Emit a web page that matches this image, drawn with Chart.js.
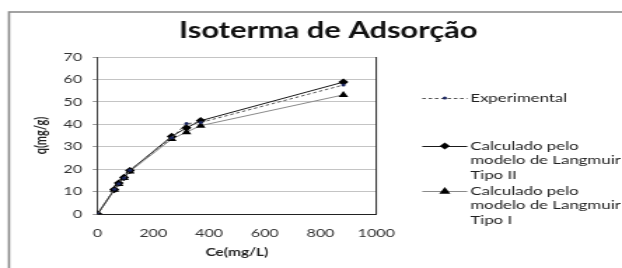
<!DOCTYPE html>
<html>
<head>
<meta charset="utf-8">
<script src="https://cdn.jsdelivr.net/npm/chart.js@4"></script>
<style>
html,body{margin:0;padding:0;background:#fff;}
#wrap{width:622px;height:268px;position:relative;overflow:hidden;}
#c{display:block;width:622px;height:268px;}
</style>
</head>
<body>
<div id="wrap"><canvas id="c" width="444" height="268" style="width:622px;height:268px;"></canvas></div>
<script>
// ---- data ----
const chartTitle = 'Isoterma de Adsorção';
const xTitle = 'Ce(mg/L)';
const yTitle = 'q(mg/g)';
const ce      = [0, 60, 76, 95, 116, 266, 319, 370, 882];
const qExp    = [0, 11.0, 13.5, 16.0, 19.5, 34.0, 40.3, 40.8, 57.5];
const qTipoII = [0, 10.9, 13.8, 16.3, 19.4, 34.6, 38.4, 41.6, 58.8];
const qTipoI  = [0, 10.8, 13.4, 16.0, 19.0, 33.4, 36.5, 39.4, 53.1];
const seriesLabels = [
  ['Experimental'],
  ['Calculado pelo', 'modelo de Langmuir', 'Tipo II'],
  ['Calculado pelo', 'modelo de Langmuir', 'Tipo I']
];
const xTicks = [0, 200, 400, 600, 800, 1000];
const yTicks = [0, 10, 20, 30, 40, 50, 60, 70];

// The reference picture is horizontally stretched; the canvas is drawn
// narrower and displayed at full width to reproduce that look.
const SX = 1.4;
const X = (px) => px / SX;   // screen px -> canvas px (horizontal)

const pts = (ys) => ce.map((x, i) => ({x: x, y: ys[i]}));
const FONT = 'Lato, "Open Sans", sans-serif';

const framePlugin = {
  id: 'frame',
  beforeDraw(chart) {
    const ctx = chart.ctx;
    ctx.save();
    ctx.fillStyle = '#fff';
    ctx.fillRect(0, 0, chart.width, chart.height);
    ctx.strokeStyle = '#8c8c8c';
    ctx.lineWidth = 1.6;
    ctx.strokeRect(X(9), 12, 700, 400);
    ctx.restore();
  },
  beforeDatasetsDraw(chart) {
    const a = chart.chartArea, ctx = chart.ctx;
    ctx.save();
    ctx.strokeStyle = '#222';
    ctx.lineWidth = 1;
    ctx.beginPath();
    ctx.moveTo(a.right, a.top);
    ctx.lineTo(a.right, a.bottom);
    ctx.stroke();
    ctx.restore();
  },
  afterDraw(chart) {
    const ctx = chart.ctx;
    ctx.save();
    // title
    ctx.fillStyle = '#111';
    ctx.font = 'bold 22px ' + FONT;
    ctx.textAlign = 'center';
    ctx.textBaseline = 'middle';
    ctx.fillText(chartTitle, X(328), 31);
    // legend
    const lx0 = X(422), lx1 = X(467), tx = X(470);
    const rows = [98, 146, 191];
    const lh = 14.5;
    ctx.font = '12px ' + FONT;
    ctx.textAlign = 'left';
    chart.data.datasets.forEach((ds, i) => {
      const y = rows[i];
      ctx.save();
      ctx.strokeStyle = ds.borderColor;
      ctx.lineWidth = ds.borderWidth;
      ctx.setLineDash(ds.borderDash || []);
      ctx.beginPath();
      ctx.moveTo(lx0, y + 0.5);
      ctx.lineTo(lx1, y + 0.5);
      ctx.stroke();
      ctx.restore();
      const mx = (lx0 + lx1) / 2;
      ctx.fillStyle = ds.pointBackgroundColor;
      ctx.beginPath();
      const r = ds.pointRadius;
      if (ds.pointStyle === 'rectRot') {
        ctx.moveTo(mx, y - r); ctx.lineTo(mx + r, y); ctx.lineTo(mx, y + r); ctx.lineTo(mx - r, y);
      } else if (ds.pointStyle === 'triangle') {
        ctx.moveTo(mx, y - r); ctx.lineTo(mx + r, y + r * 0.7); ctx.lineTo(mx - r, y + r * 0.7);
      } else {
        ctx.arc(mx, y, r, 0, Math.PI * 2);
      }
      ctx.closePath();
      ctx.fill();
      ctx.fillStyle = '#222';
      seriesLabels[i].forEach((t, j) => ctx.fillText(t, tx, y + j * lh));
    });
    ctx.restore();
  }
};

const plotLeft = X(97.5), plotRight = X(376);

new Chart(document.getElementById('c'), {
  type: 'line',
  data: {
    datasets: [
      {
        label: seriesLabels[0].join(' '),
        data: pts(qExp),
        borderColor: '#555',
        borderWidth: 1,
        borderDash: [2.5, 2],
        pointStyle: 'circle',
        pointRadius: 1.5,
        pointBackgroundColor: '#1a2560',
        pointBorderWidth: 0,
        tension: 0
      },
      {
        label: seriesLabels[1].join(' '),
        data: pts(qTipoII),
        borderColor: '#1a1a1a',
        borderWidth: 1,
        pointStyle: 'rectRot',
        pointRadius: 3.6,
        pointBackgroundColor: '#000',
        pointBorderColor: '#000',
        pointBorderWidth: 0,
        tension: 0
      },
      {
        label: seriesLabels[2].join(' '),
        data: pts(qTipoI),
        borderColor: '#8a8a8a',
        borderWidth: 1,
        pointStyle: 'triangle',
        pointRadius: 4,
        pointBackgroundColor: '#000',
        pointBorderColor: '#000',
        pointBorderWidth: 0,
        tension: 0
      }
    ]
  },
  options: {
    responsive: false,
    animation: false,
    devicePixelRatio: 1,
    layout: { padding: { left: X(10), top: 57, right: 444 - plotRight, bottom: 0 } },
    plugins: { legend: { display: false }, title: { display: false }, tooltip: { enabled: false } },
    scales: {
      x: {
        type: 'linear',
        min: 0, max: 1000,
        afterBuildTicks: (s) => { s.ticks = xTicks.map(v => ({value: v})); },
        afterFit: (s) => { s.height = 54; },
        grid: { display: false, drawTicks: false },
        border: { display: true, color: '#222', width: 1 },
        ticks: { color: '#333', padding: 12, maxRotation: 0, font: { family: FONT, size: 11.5 },
                 callback: (v) => String(v) },
        title: { display: true, text: xTitle, color: '#222', padding: { top: 0, bottom: 9 }, font: { family: FONT, size: 11, weight: 'bold' } }
      },
      y: {
        min: 0, max: 70,
        afterBuildTicks: (s) => { s.ticks = yTicks.map(v => ({value: v})); },
        afterFit: (s) => { s.width = plotLeft - X(10); },
        grid: { color: '#c4c4c4', lineWidth: 1, tickLength: 3.5, drawTicks: true, tickColor: '#999' },
        border: { display: true, color: '#444', width: 1 },
        ticks: { color: '#333', padding: 7.5, font: { family: FONT, size: 11.5 }, callback: (v) => String(v) },
        title: { display: true, text: yTitle, color: '#222', padding: { top: 15.5, bottom: 0 }, font: { family: FONT, size: 11, weight: 'bold' } }
      }
    }
  },
  plugins: [framePlugin]
});
</script>
</body>
</html>
